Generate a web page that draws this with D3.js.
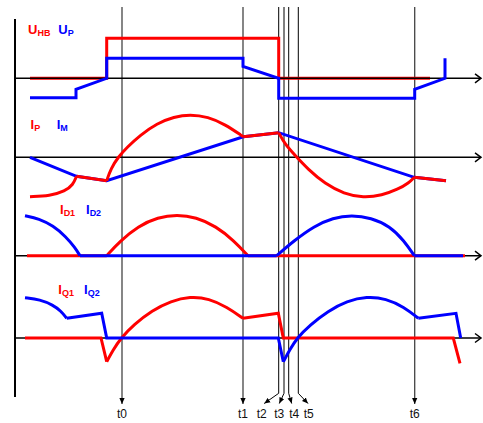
<!DOCTYPE html>
<html>
<head>
<meta charset="utf-8">
<script src="https://cdnjs.cloudflare.com/ajax/libs/d3/7.8.5/d3.min.js"></script>
<style>
body { margin: 0; background: #fff; }
svg { display: block; font-family: "Liberation Sans", Arial, sans-serif; }
</style>
</head>
<body>
<div id="chart"></div>
<script>
// time marks (same time unit as the curves below)
var timeNames = ["t0", "t1", "t2", "t3", "t4", "t5", "t6"];
var timeValues = [0, 12.1, 15.67, 16.2, 16.67, 17.63, 29.27];

// panel 1 : U_HB (red) and U_P (blue)
var uhbLine = [[-9.2, 0], [-1.53, 0], [-1.53, 4.0], [15.67, 4.0], [15.67, 0], [30.8, 0]];
var upLine = [[-9.2, -1.95], [-4.6, -1.95], [-4.6, -1.1], [-1.53, 0], [-1.53, 2.0], [12.1, 2.0], [12.1, 1.2],
              [15.67, 0], [15.67, -2.0], [29.27, -2.0], [29.27, -1.1], [32.3, 0], [32.3, 2.0]];

// panel 2 : I_P (red) and I_M (blue)
var imLine = [[-9.2, 0], [-4.55, -1.9], [-1.53, -2.34], [12.13, 2.06], [15.67, 2.46], [29.23, -2.0], [32.4, -2.35]];
var ipLines = [[[-4.55, -1.9], [-1.53, -2.34]], [[12.13, 2.06], [15.67, 2.46]], [[29.23, -2.0], [32.4, -2.35]]];
var ipArcs = [
  [[-9.2, -3.94], [-7.2, -3.85], [-5.7, -3.4], [-4.9, -2.75], [-4.55, -1.9]],
  [[-1.53, -2.34], [-1.1, -1.1], [-0.4, 0], [0.5, 1.0], [1.8, 2.2], [3.5, 3.4], [5.2, 4.05],
   [6.8, 4.3], [8.6, 4.05], [10.3, 3.3], [12.13, 2.06]],
  [[15.67, 2.46], [16.3, 1.3], [17.3, 0.2], [18.6, -1.2], [20.3, -2.65], [22.2, -3.65], [24.13, -4.05],
   [26.0, -3.8], [27.6, -3.2], [28.7, -2.55], [29.23, -2.0]]
];

// panel 3 : I_D1 (red) and I_D2 (blue)
var id1Lines = [[[-9.5, 0], [-1.53, 0]], [[12.6, 0], [34.3, 0]]];
var id1Arcs = [
  [[-1.53, 0], [-0.2, 1.45], [1.6, 2.95], [3.6, 3.85], [5.5, 4.1], [7.4, 3.85], [9.4, 2.95],
   [11.2, 1.5], [12.6, 0]]
];
var id2Lines = [[[-4.2, 0], [15.47, 0]], [[29.23, 0], [34.1, 0]]];
var id2Arcs = [
  [[-9.7, 4.0], [-8.3, 3.7], [-6.9, 3.0], [-5.6, 1.9], [-4.7, 0.8], [-4.2, 0]],
  [[15.47, 0], [17.2, 1.5], [19.2, 2.95], [21.1, 3.8], [22.97, 4.05], [24.9, 3.8], [26.8, 2.95],
   [28.2, 1.5], [29.23, 0]]
];

// panel 4 : I_Q1 (red) and I_Q2 (blue)
var iq1Lines = [[[-9.7, 0], [-2.1, 0], [-1.53, -2.37]],
                [[12.1, 1.97], [15.63, 2.47], [16.13, 0], [33.13, 0], [33.8, -2.53]]];
var iq1Arcs = [
  [[-1.53, -2.37], [-0.9, -1.2], [-0.1, 0], [1.2, 1.35], [3.0, 2.75], [4.9, 3.7], [6.8, 4.15],
   [8.7, 3.95], [10.5, 3.1], [12.1, 1.97]]
];
var iq2Lines = [[[-5.53, 1.97], [-2.03, 2.47], [-1.53, 0], [15.63, 0], [16.13, -2.37]],
                [[29.63, 1.97], [33.4, 2.47], [33.87, 0]]];
var iq2Arcs = [
  [[-9.7, 4.03], [-8.2, 3.85], [-6.9, 3.3], [-6.1, 2.7], [-5.53, 1.97]],
  [[16.13, -2.37], [16.8, -1.15], [17.5, 0], [18.8, 1.3], [20.6, 2.7], [22.5, 3.7], [24.47, 4.15],
   [26.4, 3.95], [28.2, 3.1], [29.63, 1.97]]
];

// panel labels : [main, subscript]
var redLabels = [["U", "HB"], ["I", "P"], ["I", "D1"], ["I", "Q1"]];
var blueLabels = [["U", "P"], ["I", "M"], ["I", "D2"], ["I", "Q2"]];

///////////////
// LAYOUT   //
/////////////
var w = 483, h = 423;
var zeroY = [78.3, 157.3, 255.7, 338];
var redLabelPos = [[28, 34], [30.5, 129.3], [60, 214.3], [58.3, 294]];
var blueLabelPos = [[58.3, 34], [56.7, 129.3], [86, 214.3], [84, 294]];
var arrowShift = [0, 0, -14.5, -4.7, 3, 9.7, 0];
var labelShift = [0, 0, -17, -4.7, 5.5, 10.5, 0];
var RED = "#ff0000", BLUE = "#0000ff";

var svg = d3.select("#chart")
    .append("svg")
    .attr("width", w)
    .attr("height", h);

var xScale = d3.scaleLinear().domain([-10.7, 35.9]).range([15, 481]);
var yScales = zeroY.map(function(z) {
  return d3.scaleLinear().domain([-5, 5]).range([z + 50, z - 50]);
});

// marker for time arrows
var defs = svg.append("defs");
defs.append("marker")
    .attr("id", "tip")
    .attr("viewBox", "0 -3 6 6")
    .attr("refX", 6).attr("refY", 0)
    .attr("markerWidth", 6).attr("markerHeight", 6)
    .attr("markerUnits", "userSpaceOnUse")
    .attr("orient", "auto")
    .append("path")
    .attr("d", "M0,-2.6L6,0L0,2.6Z")
    .attr("fill", "#000");

// time lines
timeValues.forEach(function(t, i) {
  var x = xScale(t);
  var grey = (i === 0 || i === 1 || i === 6);
  var pts;
  if (grey) {
    pts = [[x, 7], [x, 404]];
  } else {
    pts = [[x, 7], [x, 393.3], [x + arrowShift[i], 403.5]];
  }
  svg.append("path")
     .attr("d", d3.line()(pts))
     .attr("fill", "none")
     .attr("stroke", grey ? "#444" : "#000")
     .attr("stroke-width", grey ? 1.3 : 1)
     .attr("marker-end", "url(#tip)");
  svg.append("text")
     .attr("x", x + labelShift[i])
     .attr("y", 417.5)
     .attr("text-anchor", "middle")
     .attr("font-size", "12px")
     .attr("fill", "#111")
     .text(timeNames[i]);
});

// left axis
svg.append("line")
   .attr("x1", 15).attr("x2", 15)
   .attr("y1", 19).attr("y2", 397)
   .attr("stroke", "#000").attr("stroke-width", 2);

function drawAxis(k) {
  var y = yScales[k](0);
  var g = svg.append("g").attr("stroke", "#000").attr("fill", "none");
  g.append("line").attr("x1", 15).attr("x2", 481).attr("y1", y).attr("y2", y).attr("stroke-width", 1.4);
  g.append("path").attr("d", "M475," + (y - 4.5) + "L481," + y + "L475," + (y + 4.5)).attr("stroke-width", 1.5);
}

var lineGen = function(k, smooth) {
  var l = d3.line()
    .x(function(d) { return xScale(d[0]); })
    .y(function(d) { return yScales[k](d[1]); });
  if (smooth) l.curve(d3.curveBasis);
  return l;
};

function drawSeries(k, lines, arcs, color) {
  var g = svg.append("g")
     .attr("fill", "none")
     .attr("stroke", color)
     .attr("stroke-width", 3)
     .attr("stroke-linejoin", "miter")
     .attr("stroke-linecap", "butt");
  lines.forEach(function(p) { g.append("path").attr("d", lineGen(k, false)(p)); });
  arcs.forEach(function(p) { g.append("path").attr("d", lineGen(k, true)(p)); });
}

function drawLabel(pos, txt, color) {
  var t = svg.append("text")
     .attr("x", pos[0]).attr("y", pos[1])
     .attr("fill", color)
     .attr("font-weight", "bold")
     .attr("font-size", "13px");
  t.append("tspan").text(txt[0]);
  t.append("tspan").attr("font-size", "9px").attr("dy", 1.8).text(txt[1]);
}

// axes of panels 2-4 below the curves
drawAxis(1); drawAxis(2); drawAxis(3);

// panel 1
drawSeries(0, [uhbLine], [], RED);
drawAxis(0);
drawSeries(0, [upLine], [], BLUE);

// panel 2
drawSeries(1, [imLine], [], BLUE);
drawSeries(1, ipLines, ipArcs, RED);

// panel 3
drawSeries(2, id1Lines, id1Arcs, RED);
drawSeries(2, id2Lines, id2Arcs, BLUE);

// panel 4
drawSeries(3, iq1Lines, iq1Arcs, RED);
drawSeries(3, iq2Lines, iq2Arcs, BLUE);

// labels
redLabels.forEach(function(l, i) { drawLabel(redLabelPos[i], l, RED); });
blueLabels.forEach(function(l, i) { drawLabel(blueLabelPos[i], l, BLUE); });
</script>
</body>
</html>
